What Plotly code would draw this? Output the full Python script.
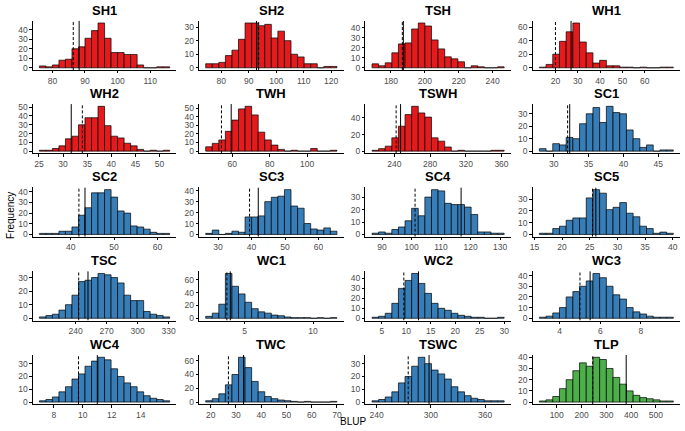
import plotly.graph_objects as go
from plotly.subplots import make_subplots

# ---------------- data ----------------
names = ["SH1", "SH2", "TSH", "WH1",
         "WH2", "TWH", "TSWH", "SC1",
         "SC2", "SC3", "SC4", "SC5",
         "TSC", "WC1", "WC2", "WC3",
         "WC4", "TWC", "TSWC", "TLP"]

# histogram bin start and bin width per trait
bin_start = [76.0, 74.3, 168.8, 12.8,
             25.1, 45.9, 215.0, 27.95,
             32.8, 26.3, 86.6, 15.9,
             205.0, 2.15, 3.0, 3.0,
             7.0, 18.0, 235.0, 30.0]
bin_width = [2.0, 2.39, 3.9, 3.0,
             1.35, 3.5, 7.4, 0.96,
             1.5, 1.96, 2.24, 1.21,
             6.3, 0.48, 1.35, 0.33,
             0.45, 2.6, 7.3, 27.0]

counts = {
    "SH1": [2, 1, 3, 8, 9, 20, 22, 31, 39, 47, 31, 16, 16, 14, 14, 3, 0, 0, 1, 1],
    "SH2": [3, 3, 4, 9, 13, 21, 33, 33, 31, 32, 22, 27, 20, 10, 8, 3, 3, 0, 1, 1],
    "TSH": [4, 2, 5, 15, 24, 25, 39, 45, 42, 28, 19, 11, 9, 6, 0, 2, 1, 0, 0, 1],
    "WH1": [1, 5, 20, 39, 53, 66, 38, 22, 7, 11, 3, 3, 1, 1, 0, 1, 0, 0, 1, 1],
    "WH2": [1, 1, 3, 6, 14, 17, 30, 38, 38, 51, 29, 17, 15, 9, 6, 2, 0, 1, 0, 1],
    "TWH": [5, 9, 13, 23, 36, 49, 52, 42, 22, 13, 7, 2, 0, 1, 0, 0, 3, 0, 0, 1],
    "TSWH": [1, 3, 6, 16, 30, 44, 54, 46, 41, 16, 12, 5, 0, 1, 0, 0, 0, 0, 1, 1],
    "SC1": [2, 0, 6, 5, 11, 10, 22, 30, 35, 23, 36, 31, 30, 17, 10, 3, 5, 0, 1, 1],
    "SC2": [1, 1, 1, 3, 3, 7, 18, 25, 39, 39, 42, 35, 22, 20, 8, 7, 5, 2, 1, 1],
    "SC3": [1, 4, 0, 1, 3, 2, 16, 16, 17, 30, 34, 35, 41, 26, 24, 10, 5, 4, 6, 3],
    "SC4": [1, 2, 1, 4, 6, 11, 21, 15, 30, 36, 35, 25, 24, 24, 22, 16, 2, 2, 1, 1],
    "SC5": [1, 1, 5, 7, 12, 14, 14, 31, 38, 35, 21, 23, 27, 18, 15, 7, 5, 1, 2, 1],
    "TSC": [1, 2, 3, 6, 10, 17, 27, 28, 30, 33, 32, 30, 26, 17, 13, 13, 5, 3, 2, 1],
    "WC1": [3, 8, 22, 70, 50, 38, 25, 15, 10, 8, 5, 4, 2, 1, 1, 1, 0, 1, 0, 1],
    "WC2": [1, 2, 5, 15, 30, 38, 45, 35, 25, 15, 10, 8, 5, 3, 2, 1, 1, 0, 0, 1],
    "WC3": [1, 2, 5, 10, 20, 25, 30, 35, 42, 38, 30, 22, 18, 10, 6, 4, 2, 1, 1, 1],
    "WC4": [1, 2, 4, 8, 12, 18, 22, 28, 32, 35, 33, 26, 20, 15, 12, 8, 5, 3, 2, 1],
    "TWC": [2, 5, 12, 25, 40, 65, 50, 30, 15, 8, 5, 3, 2, 1, 0, 1, 0, 0, 0, 1],
    "TSWC": [1, 2, 4, 8, 15, 20, 28, 35, 30, 25, 22, 18, 12, 8, 5, 3, 2, 1, 1, 1],
    "TLP": [1, 2, 5, 12, 20, 28, 35, 32, 40, 38, 30, 22, 16, 10, 6, 4, 3, 2, 1, 1],
}

# reference lines: dashed and solid
dashed_x = [86.4, 93.6, 186.7, 20.0,
            34.0, 54.3, 242.0, 32.0,
            41.9, 39.4, 101.2, 25.5,
            243.0, 3.7, 9.5, 5.0,
            9.7, 27.0, 275.0, 245.0]
solid_x = [88.2, 92.8, 187.3, 27.0,
           31.7, 59.5, 247.0, 32.3,
           43.3, 42.0, 116.8, 26.1,
           252.0, 3.95, 12.5, 5.5,
           11.0, 33.0, 298.0, 380.0]

x_ticks = [[80, 90, 100, 110], [80, 90, 100, 110, 120], [180, 200, 220, 240], [20, 30, 40, 50, 60],
           [25, 30, 35, 40, 45, 50], [60, 80, 100], [240, 280, 320, 360], [30, 35, 40, 45],
           [40, 50, 60], [30, 40, 50, 60], [90, 100, 110, 120, 130], [15, 20, 25, 30, 35, 40],
           [240, 270, 300, 330], [5, 10], [5, 10, 15, 20, 25, 30], [4, 6, 8],
           [8, 10, 12, 14], [20, 30, 40, 50, 60, 70], [240, 300, 360], [100, 200, 300, 400, 500]]
y_dtick = [10, 10, 10, 20,
           10, 10, 20, 10,
           10, 10, 10, 10,
           10, 20, 10, 10,
           10, 20, 10, 10]

panel_color = ["#E41A1C"] * 7 + ["#377EB8"] * 12 + ["#4DAF4A"]

# ---------------- figure ----------------
W, H = 685, 431
FONT = "Liberation Sans, Arial, sans-serif"
fig = make_subplots(rows=5, cols=4)

axis_left = [30, 197, 364, 532]
axis_right = [174, 342, 510, 680]
axis_bottom = [68, 152.5, 237, 322, 407]
plot_h = 50

for i, name in enumerate(names):
    r, c = divmod(i, 4)
    idx = i + 1
    xa = "xaxis" if idx == 1 else f"xaxis{idx}"
    ya = "yaxis" if idx == 1 else f"yaxis{idx}"

    cnt = counts[name]
    n = len(cnt)
    s, w = bin_start[i], bin_width[i]
    centers = [s + w * (k + 0.5) for k in range(n)]
    fig.add_trace(go.Bar(x=centers, y=cnt, width=[w] * n,
                         marker=dict(color=panel_color[i], line=dict(color="black", width=0.7)),
                         showlegend=False, hoverinfo="skip"), row=r + 1, col=c + 1)

    span = w * n
    x0, x1 = s - 0.05 * span, s + span + 0.05 * span
    ymax = max(cnt)
    y0, y1 = -0.05 * ymax, 1.05 * ymax

    # vertical reference lines spanning the whole panel
    fig.add_trace(go.Scatter(x=[dashed_x[i], dashed_x[i]], y=[y0, y1], mode="lines",
                             line=dict(color="black", width=1, dash="3px,2px"),
                             showlegend=False, hoverinfo="skip"), row=r + 1, col=c + 1)
    fig.add_trace(go.Scatter(x=[solid_x[i], solid_x[i]], y=[y0, y1], mode="lines",
                             line=dict(color="black", width=1),
                             showlegend=False, hoverinfo="skip"), row=r + 1, col=c + 1)

    d_left = axis_left[c] / W
    d_right = axis_right[c] / W
    d_bot = 1 - axis_bottom[r] / H
    d_top = 1 - (axis_bottom[r] - plot_h) / H
    fig.layout[xa].update(domain=[d_left, d_right], range=[x0, x1],
                          tickvals=x_ticks[i], showgrid=False, zeroline=False,
                          showline=True, linecolor="black", linewidth=0.8,
                          ticks="outside", ticklen=2.5, tickcolor="black", tickwidth=0.8,
                          tickfont=dict(family=FONT, size=8.5, color="#4D4D4D"))
    fig.layout[ya].update(domain=[d_bot, d_top], range=[y0, y1],
                          dtick=y_dtick[i], tick0=0, showgrid=False, zeroline=False,
                          showline=True, linecolor="black", linewidth=0.8,
                          ticks="outside", ticklen=2.5, tickcolor="black", tickwidth=0.8,
                          tickfont=dict(family=FONT, size=8.5, color="#4D4D4D"))

    fig.add_annotation(text=f"<b>{name}</b>", xref="paper", yref="paper",
                       x=(d_left + d_right) / 2, y=d_top, yanchor="bottom", xanchor="center",
                       yshift=1, showarrow=False,
                       font=dict(family=FONT, size=13, color="black"))

fig.add_annotation(text="Frequency", xref="paper", yref="paper", x=7 / W, y=1 - 215 / H,
                   textangle=-90, showarrow=False, xanchor="center", yanchor="middle",
                   font=dict(family=FONT, size=10, color="black"))
fig.add_annotation(text="BLUP", xref="paper", yref="paper", x=352 / W, y=1 - 424 / H,
                   showarrow=False, xanchor="center", yanchor="middle",
                   font=dict(family=FONT, size=10, color="black"))

fig.update_layout(width=W, height=H, margin=dict(l=0, r=0, t=0, b=0),
                  plot_bgcolor="white", paper_bgcolor="white", barmode="overlay")

fig.write_html("out.html", config={"displayModeBar": False},
               post_script="document.body.style.margin='0px';")
